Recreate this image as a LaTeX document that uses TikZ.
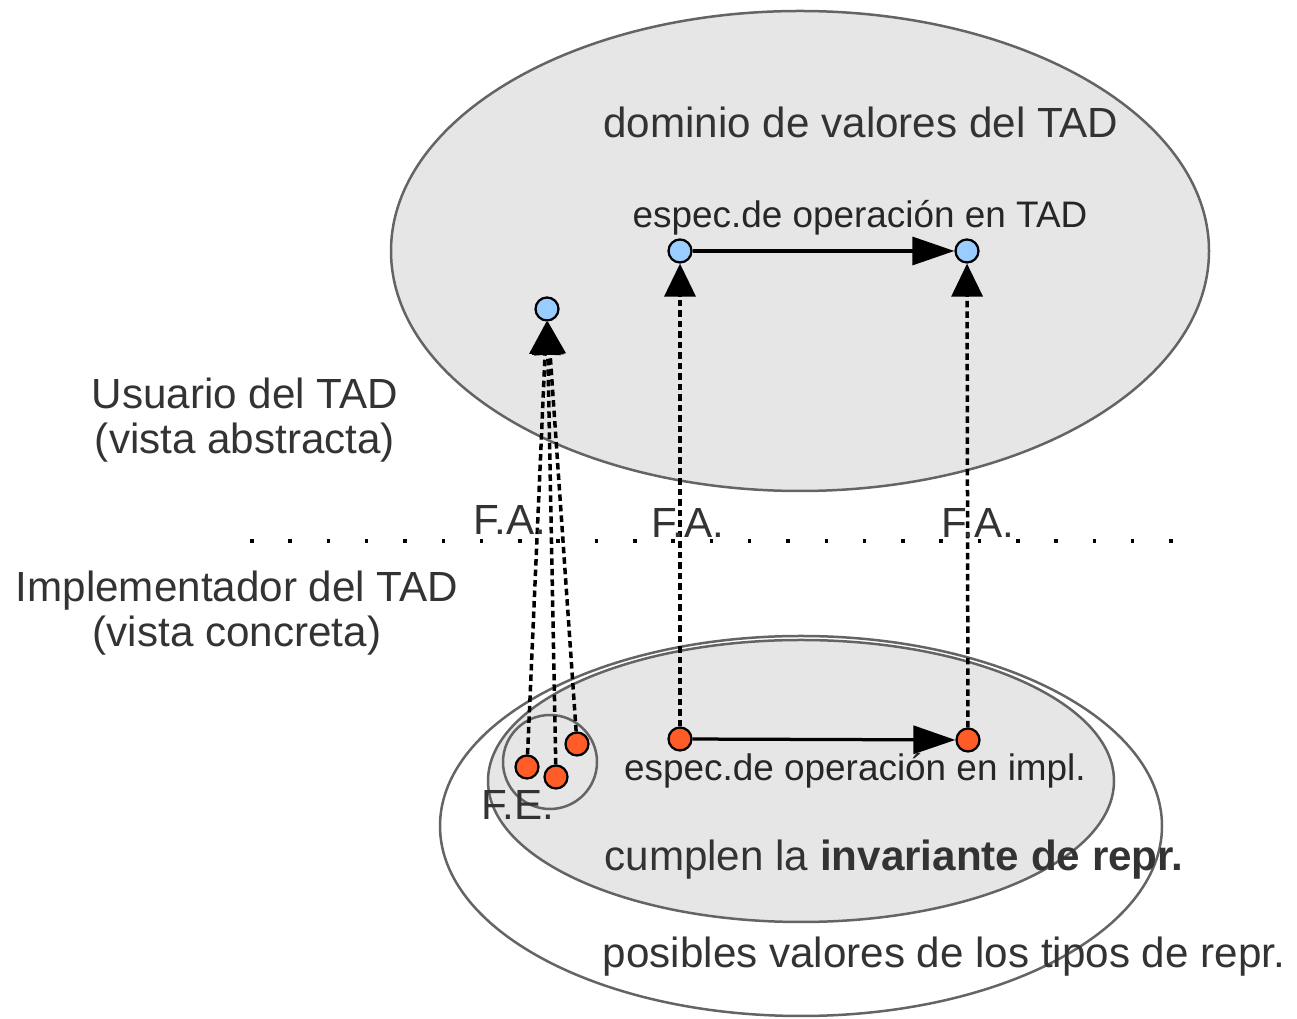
\documentclass[tikz,border=0pt]{standalone}
\usepackage{fontspec}
\setmainfont{Liberation Sans}
\usetikzlibrary{shapes.geometric, arrows.meta, positioning}

\definecolor{regiongray}{RGB}{230,230,230}
\definecolor{edgegray}{RGB}{100,100,100}
\definecolor{txtgray}{RGB}{51,51,51}
\definecolor{absblue}{RGB}{153,204,255}
\definecolor{concorange}{RGB}{255,92,40}

\begin{document}
\begin{tikzpicture}[
    region/.style={ellipse, draw=edgegray, line width=0.05cm, inner sep=0pt},
    absval/.style={circle, draw=black, fill=absblue, line width=0.045cm, minimum size=0.46cm, inner sep=0pt},
    concval/.style={circle, draw=black, fill=concorange, line width=0.045cm, minimum size=0.46cm, inner sep=0pt},
    lbl/.style={font=\fontsize{24}{26}\selectfont, text=txtgray, align=center, inner sep=0pt},
    oplbl/.style={font=\fontsize{21}{24}\selectfont, text=black!85, inner sep=0pt},
    opline/.style={draw, line width=0.065cm, -{Triangle[length=0.84cm, width=0.56cm]}},
    absfn/.style={draw, line width=0.07cm, dash pattern=on 0.13cm off 0.08cm, -{Triangle[length=0.66cm, width=0.62cm]}}
]
\useasboundingbox (0,0) rectangle (25.94,20.38);

% Regions
\node[region, fill=regiongray, minimum width=16.36cm, minimum height=9.6cm] (tad) at (16.00,15.36) {};
\node[region, minimum width=14.44cm, minimum height=7.6cm] (repr) at (16.02,3.86) {};
\node[region, fill=regiongray, minimum width=12.52cm, minimum height=5.64cm] (inv) at (16.02,4.76) {};
\node[circle, draw=edgegray, line width=0.05cm, minimum size=1.88cm, inner sep=0pt] (fe_box) at (11.00,5.14) {};

% Region labels
\node[lbl] (dominio) at (17.22,17.94) {dominio de valores del TAD};
\node[lbl] (cumplen) at (17.88,3.18) {cumplen la \textbf{invariante de repr.}};
\node[lbl] (posibles) at (18.88,1.24) {posibles valores de los tipos de repr.};

% Views
\node[lbl] (usuario) at (4.90,11.98) {Usuario del TAD\\(vista abstracta)};
\node[lbl] (impl) at (4.74,8.12) {Implementador del TAD\\(vista concreta)};

% Separator
\coordinate (sep_l) at (5.00,9.56);
\coordinate (sep_r) at (23.50,9.56);
\draw[line width=0.07cm, dash pattern=on 0.07cm off 0.696cm] (sep_l) -- (sep_r);

% Abstract values
\node[absval] (a0) at (10.94,14.20) {};
\node[absval] (a1) at (13.60,15.36) {};
\node[absval] (a2) at (19.34,15.36) {};

% Concrete values
\node[concval] (c0) at (10.54,5.04) {};
\node[concval] (c1) at (11.12,4.84) {};
\node[concval] (c2) at (11.54,5.50) {};
\node[concval] (c3) at (13.60,5.60) {};
\node[concval] (c4) at (19.36,5.58) {};

% Operations
\path [opline] (a1) -- (a2);
\path [opline] (c3) -- (c4);

% Operation labels
\node[oplbl] (op_tad) at (17.20,16.02) {espec.de operación en TAD};
\node[oplbl] (op_impl) at (17.10,4.96) {espec.de operación en impl.};

% Abstraction function
\path [absfn] (c0) -- (a0);
\path [absfn] (c1) -- (a0);
\path [absfn] (c2) -- (a0);
\path [absfn] (c3) -- (a1);
\path [absfn] (c4) -- (a2);

\node[lbl] (fa0) at (10.20,9.98) {F.A.};
\node[lbl] (fa1) at (13.76,9.92) {F.A.};
\node[lbl] (fa2) at (19.56,9.92) {F.A.};
\node[lbl] (fe) at (10.36,4.28) {F.E.};

\end{tikzpicture}
\end{document}
